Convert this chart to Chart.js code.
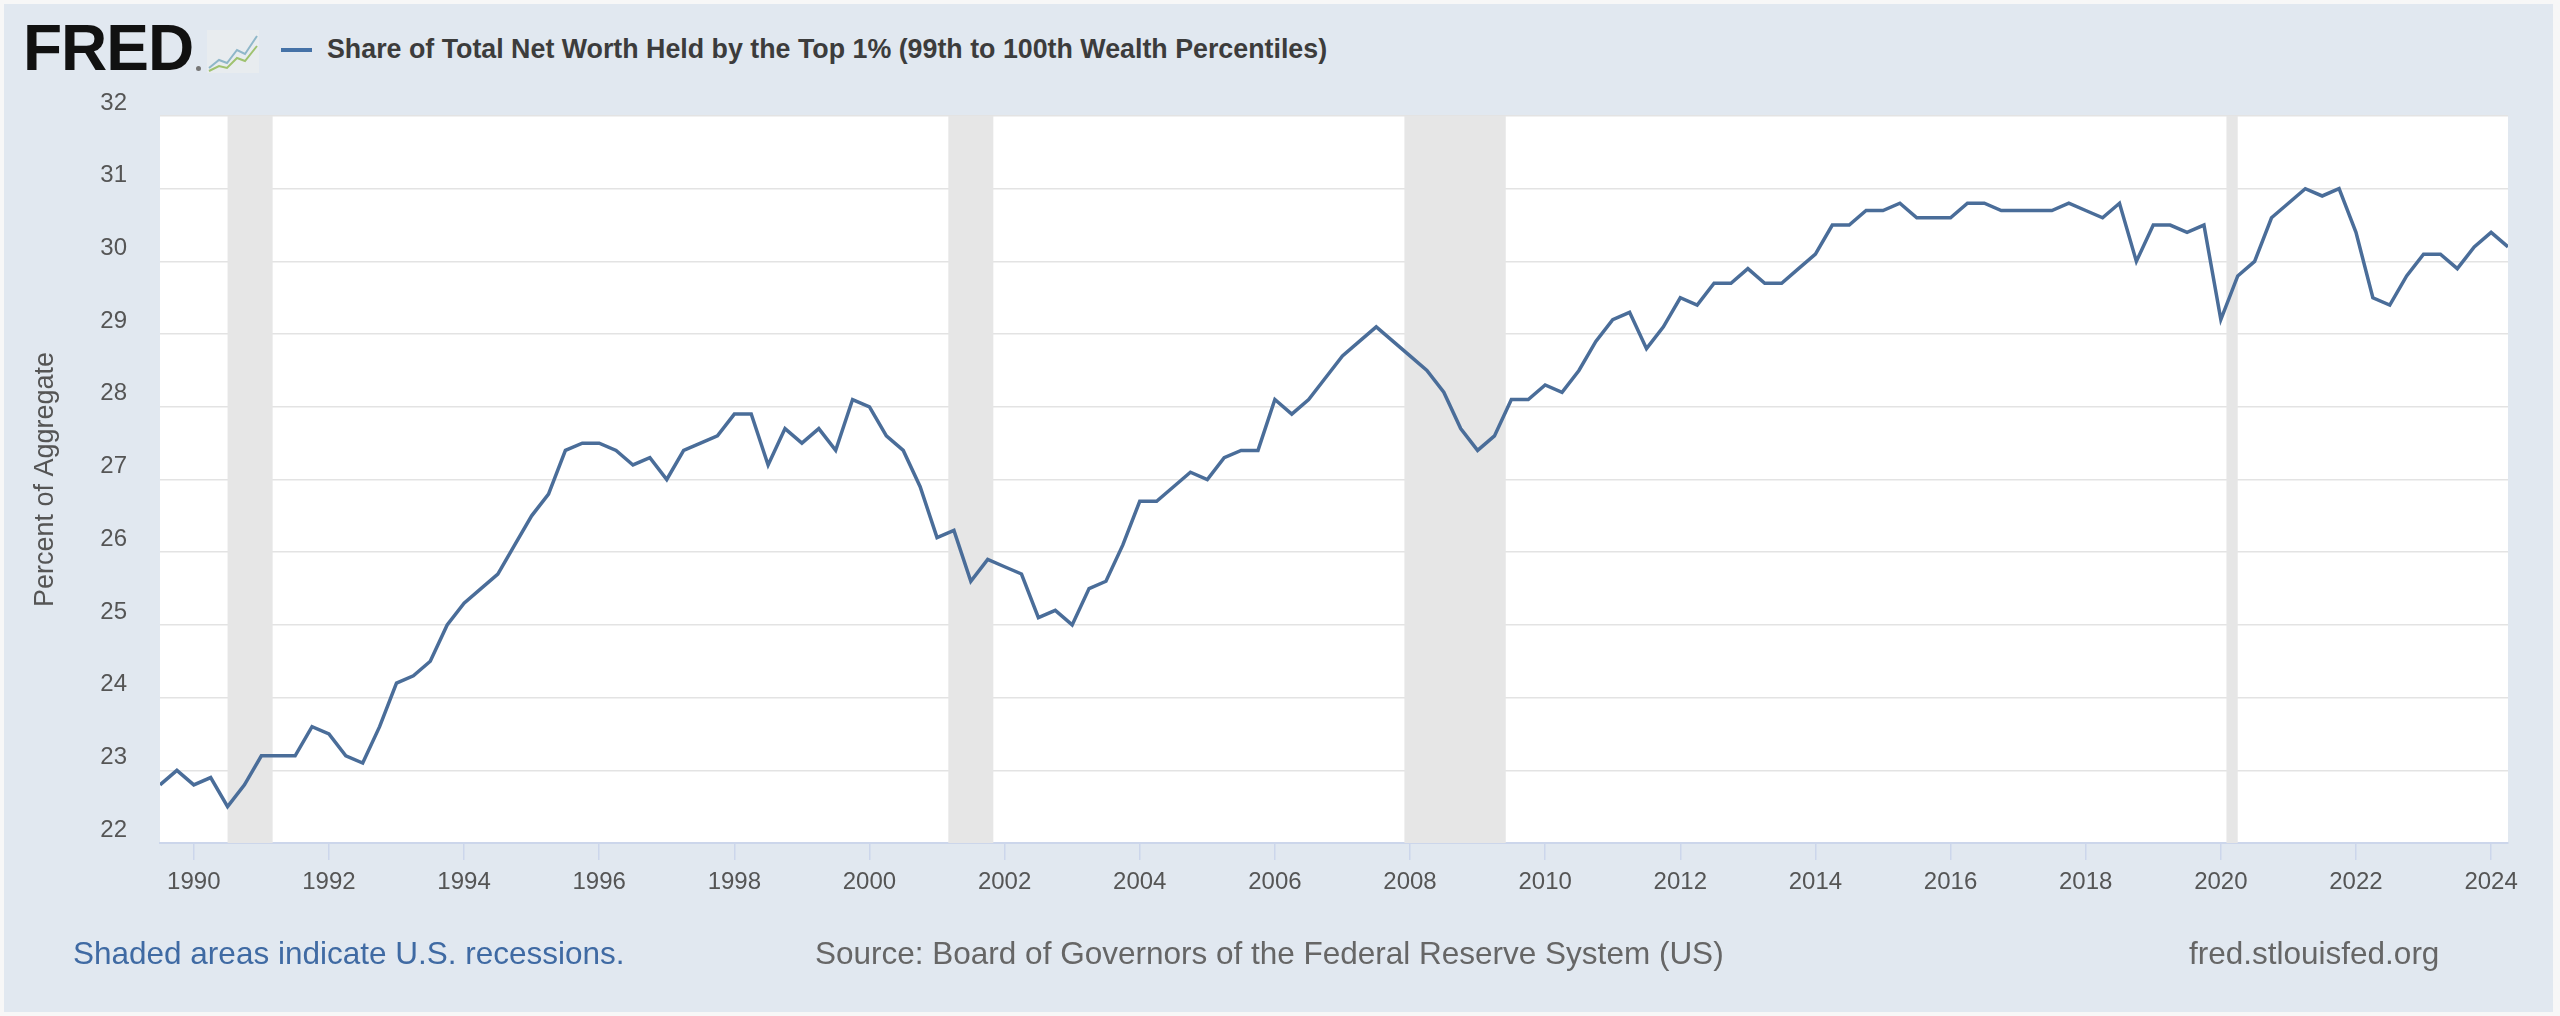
<!DOCTYPE html>
<html>
<head>
<meta charset="utf-8">
<script src="https://cdn.jsdelivr.net/npm/chart.js@4.4.1/dist/chart.umd.min.js"></script>
<style>
html, body { margin: 0; padding: 0; background: #f7f7f7; }
body { width: 2560px; height: 1016px; position: relative; overflow: hidden; font-family: "Liberation Sans", Arial, sans-serif; }
#panel { position: absolute; left: 4px; top: 4px; width: 2549px; height: 1008px; background: #e1e8f0; }
#chart { position: absolute; left: 0; top: 0; }
.logo { position: absolute; left: 23px; top: 16px; font-weight: bold; font-size: 64px; line-height: 64px; letter-spacing: -1px; color: #111; }
.reg { position: absolute; left: 196px; top: 66px; width: 5px; height: 5px; border-radius: 50%; background: #777; }
.icon { position: absolute; left: 207px; top: 30px; }
.legend-line { position: absolute; left: 281px; top: 48px; width: 31px; height: 4px; background: #4572a7; }
.legend { position: absolute; left: 327px; top: 34px; font-weight: bold; font-size: 26.8px; color: #3c3c3c; white-space: nowrap; }
.foot { position: absolute; top: 935px; font-size: 31.5px; color: #666; white-space: nowrap; }
</style>
</head>
<body>
<div id="panel"></div>
<div class="logo">FRED</div>
<div class="reg"></div>
<svg class="icon" width="52" height="43" viewBox="0 0 52 43">
  <rect x="0" y="0" width="52" height="43" fill="#e8ecef"/>
  <polyline points="2,38 12,30 20,33 30,20 38,24 50,6" fill="none" stroke="#8fb7c9" stroke-width="2"/>
  <polyline points="2,41 12,36 20,38 30,28 38,31 50,16" fill="none" stroke="#9fc26f" stroke-width="2"/>
</svg>
<div class="legend-line"></div>
<div class="legend">Share of Total Net Worth Held by the Top 1% (99th to 100th Wealth Percentiles)</div>
<canvas id="chart" width="2560" height="1016"></canvas>
<div class="foot" style="left:73px; color:#3f6aa3;">Shaded areas indicate U.S. recessions.</div>
<div class="foot" style="left:815px;">Source: Board of Governors of the Federal Reserve System (US)</div>
<div class="foot" style="left:2189px;">fred.stlouisfed.org</div>
<script>
// Trimestres: 1989 T3 até 2024 T2
const firstQuarter = 1989.5;
const shareTop1 = [
    22.8, 23.0, 22.8, 22.9, 22.5, 22.8, 23.2, 23.2, 23.2, 23.6, 23.5, 23.2, 23.1, 23.6, 24.2, 24.3, 24.5, 25.0, 25.3,
    25.5, 25.7, 26.1, 26.5, 26.8, 27.4, 27.5, 27.5, 27.4, 27.2, 27.3, 27.0, 27.4, 27.5, 27.6, 27.9, 27.9,
    27.2, 27.7, 27.5, 27.7, 27.4, 28.1, 28.0, 27.6, 27.4, 26.9, 26.2, 26.3, 25.6, 25.9, 25.8, 25.7, 25.1, 25.2,
    25.0, 25.5, 25.6, 26.1, 26.7, 26.7, 26.9, 27.1, 27.0, 27.3, 27.4, 27.4, 28.1, 27.9, 28.1, 28.4, 28.7, 28.9,
    29.1, 28.9, 28.7, 28.5, 28.2, 27.7, 27.4, 27.6, 28.1, 28.1, 28.3, 28.2, 28.5, 28.9, 29.2, 29.3, 28.8, 29.1,
    29.5, 29.4, 29.7, 29.7, 29.9, 29.7, 29.7, 29.9, 30.1, 30.5, 30.5, 30.7, 30.7, 30.8, 30.6, 30.6, 30.6, 30.8,
    30.8, 30.7, 30.7, 30.7, 30.7, 30.8, 30.7, 30.6, 30.8, 30.0, 30.5, 30.5, 30.4, 30.5, 29.2, 29.8, 30.0, 30.6,
    30.8, 31.0, 30.9, 31.0, 30.4, 29.5, 29.4, 29.8, 30.1, 30.1, 29.9, 30.2, 30.4, 30.2
];

// Recessões (início e fim, em anos decimais)
const recessionStart = [1990.5, 2001.167, 2007.917, 2020.083];
const recessionEnd = [1991.167, 2001.833, 2009.417, 2020.25];

const yTicks = [22, 23, 24, 25, 26, 27, 28, 29, 30, 31, 32];
const xTickYears = [1990, 1992, 1994, 1996, 1998, 2000, 2002, 2004, 2006, 2008, 2010, 2012, 2014, 2016, 2018, 2020, 2022, 2024];

const points = shareTop1.map((v, i) => ({ x: firstQuarter + i * 0.25, y: v }));

// Fundo branco da área do gráfico e faixas de recessão
const plotBackground = {
    id: 'plotBackground',
    beforeDraw(chart) {
        const { ctx, chartArea } = chart;
        ctx.save();
        ctx.fillStyle = '#ffffff';
        ctx.fillRect(chartArea.left, chartArea.top, chartArea.width, chartArea.height);
        ctx.restore();
    },
    beforeDatasetsDraw(chart) {
        const { ctx, chartArea, scales } = chart;
        ctx.save();
        ctx.fillStyle = '#e6e6e6';
        for (let i = 0; i < recessionStart.length; i++) {
            const x1 = scales.x.getPixelForValue(recessionStart[i]);
            const x2 = scales.x.getPixelForValue(recessionEnd[i]);
            ctx.fillRect(x1, chartArea.top, x2 - x1, chartArea.height);
        }
        ctx.restore();
    }
};

const chart = new Chart(document.getElementById('chart').getContext('2d'), {
    type: 'line',
    data: {
        datasets: [{
            label: 'Share of Total Net Worth Held by the Top 1% (99th to 100th Wealth Percentiles)',
            data: points,
            borderColor: '#4a6d99',
            borderWidth: 3.5,
            pointRadius: 0,
            tension: 0,
            fill: false
        }]
    },
    options: {
        responsive: false,
        animation: false,
        layout: { padding: { top: 116, right: 52, bottom: 113, left: 0 } },
        plugins: { legend: { display: false }, tooltip: { enabled: false } },
        scales: {
            x: {
                type: 'linear',
                min: firstQuarter,
                max: firstQuarter + (shareTop1.length - 1) * 0.25,
                afterBuildTicks: (scale) => { scale.ticks = xTickYears.map(v => ({ value: v })); },
                afterFit: (scale) => { scale.height = 60; },
                grid: { drawOnChartArea: false, drawTicks: true, tickLength: 17, color: '#ccd6eb', lineWidth: 1.5 },
                border: { color: '#ccd6eb', width: 2 },
                ticks: {
                    padding: 8,
                    maxRotation: 0,
                    autoSkip: false,
                    color: '#555555',
                    font: { family: 'Liberation Sans', size: 24 },
                    callback: (v) => String(v)
                }
            },
            y: {
                min: 22,
                max: 32,
                afterBuildTicks: (scale) => { scale.ticks = yTicks.map(v => ({ value: v })); },
                afterFit: (scale) => { scale.width = 160; },
                grid: { color: '#e3e3e3', lineWidth: 1.5, drawTicks: false },
                border: { display: false },
                ticks: {
                    padding: 33,
                    labelOffset: -13,
                    color: '#555555',
                    font: { family: 'Liberation Sans', size: 24 }
                },
                title: {
                    display: true,
                    text: 'Percent of Aggregate',
                    color: '#555555',
                    font: { family: 'Liberation Sans', size: 27 },
                    padding: { top: 29, bottom: 0 }
                }
            }
        }
    },
    plugins: [plotBackground]
});
</script>
</body>
</html>
